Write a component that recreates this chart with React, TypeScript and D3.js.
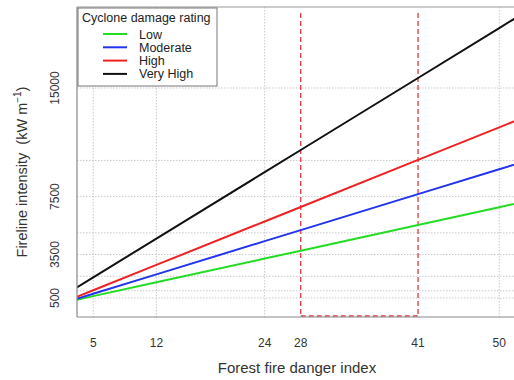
import React from "react";
import * as d3 from "d3";

const ffdi = [3, 5, 12, 24, 28, 41, 50, 53];
const seriesNames = ["Low", "Moderate", "High", "Very High"];
const lowVals = [355, 628, 1583, 3221, 3767, 5541, 6770, 7180];
const moderateVals = [413, 795, 2132, 4424, 5188, 7671, 9390, 9960];
const highVals = [534, 1034, 2784, 5784, 6784, 10034, 12284, 13030];
const veryHighVals = [1158, 1923, 4600, 9190, 10720, 15690, 19135, 20290];
const seriesColors = ["#22dd22", "#2233ee", "#ee2222", "#111111"];
const xTicks = [5, 12, 24, 28, 41, 50];
const xGrid = [5, 12, 24, 50];
const yTicks = [500, 3500, 7500, 15000];
const yGrid = [500, 1000, 2000, 3500, 5000, 7500, 10000, 15000];
const highlight = [28, 41];

const W = 514, H = 380;
const L = 77, T = 7, B = 317;

export default function App() {
  const x = d3.scaleLinear().domain([3.2, 53]).range([L, L + 49.8 * 9.022]);
  const y = d3.scaleLinear().domain([-812, 20592]).range([B, T]);
  const R = x(53);
  const allVals = [lowVals, moderateVals, highVals, veryHighVals];
  const line = d3
    .line<[number, number]>()
    .x((d) => x(d[0]))
    .y((d) => y(d[1]));
  const font = "'Liberation Sans', Arial, sans-serif";
  return (
    <svg
      width={W}
      height={H}
      style={{ position: "fixed", left: 0, top: 0, background: "#fff" }}
      fontFamily={font}
    >
      <defs>
        <clipPath id="plot">
          <rect x={L} y={T} width={R - L} height={B - T} />
        </clipPath>
      </defs>
      <rect x={0} y={0} width={W} height={H} fill="#fff" />
      {/* grid */}
      {xGrid.map((v) => (
        <line key={"gx" + v} x1={x(v)} x2={x(v)} y1={T} y2={B} stroke="#c8c8c8" strokeWidth={1} strokeDasharray="1.5,1.5" />
      ))}
      {yGrid.map((v) => (
        <line key={"gy" + v} x1={L} x2={R} y1={y(v)} y2={y(v)} stroke="#c8c8c8" strokeWidth={1} strokeDasharray="1.5,1.5" />
      ))}
      {/* highlight dashed */}
      <g clipPath="url(#plot)">
        {highlight.map((v) => (
          <line key={"h" + v} x1={x(v)} x2={x(v)} y1={T + 6} y2={B - 1} stroke="#e03a3a" strokeWidth={1.3} strokeDasharray="5,3" />
        ))}
        <line x1={x(highlight[0])} x2={x(highlight[1])} y1={B - 1} y2={B - 1} stroke="#e03a3a" strokeWidth={1.3} strokeDasharray="5,3" />
        {allVals.map((vals, i) => (
          <path
            key={"s" + i}
            d={line(ffdi.map((f, j) => [f, vals[j]] as [number, number])) || ""}
            fill="none"
            stroke={seriesColors[i]}
            strokeWidth={2}
          />
        ))}
      </g>
      {/* axes box */}
      <line x1={L} x2={L} y1={T} y2={B} stroke="#888" strokeWidth={1.2} />
      <line x1={L} x2={R} y1={B} y2={B} stroke="#888" strokeWidth={1.2} />
      <line x1={L} x2={R} y1={T} y2={T} stroke="#999" strokeWidth={1.2} />
      {/* x tick labels */}
      {xTicks.map((v) => (
        <text key={"xt" + v} x={x(v)} y={347} textAnchor="middle" fontSize={12} fill="#333">
          {v}
        </text>
      ))}
      {/* y tick labels */}
      {yTicks.map((v) => (
        <text
          key={"yt" + v}
          transform={`translate(59,${y(v)}) rotate(-90)`}
          textAnchor="middle"
          fontSize={12}
          fill="#333"
        >
          {v}
        </text>
      ))}
      {/* axis titles */}
      <text x={297} y={373} textAnchor="middle" fontSize={15} fill="#333">
        Forest fire danger index
      </text>
      <text transform="translate(27,172) rotate(-90)" textAnchor="middle" fontSize={14.5} fill="#333">
        Fireline intensity{"\u00a0\u00a0"}(kW m
        <tspan dy={-6} fontSize={10}>−1</tspan>
        <tspan dy={6}>)</tspan>
      </text>
      {/* legend */}
      <rect x={78} y={8} width={139} height={78} fill="#fff" stroke="#777" strokeWidth={1} />
      <text x={82} y={22} fontSize={12.5} fill="#222">
        Cyclone damage rating
      </text>
      {seriesNames.map((n, i) => (
        <g key={"lg" + i}>
          <line x1={103} x2={127} y1={34 + i * 13.3} y2={34 + i * 13.3} stroke={seriesColors[i]} strokeWidth={2} />
          <text x={139} y={38.5 + i * 13.3} fontSize={12.5} fill="#222">
            {n}
          </text>
        </g>
      ))}
    </svg>
  );
}
